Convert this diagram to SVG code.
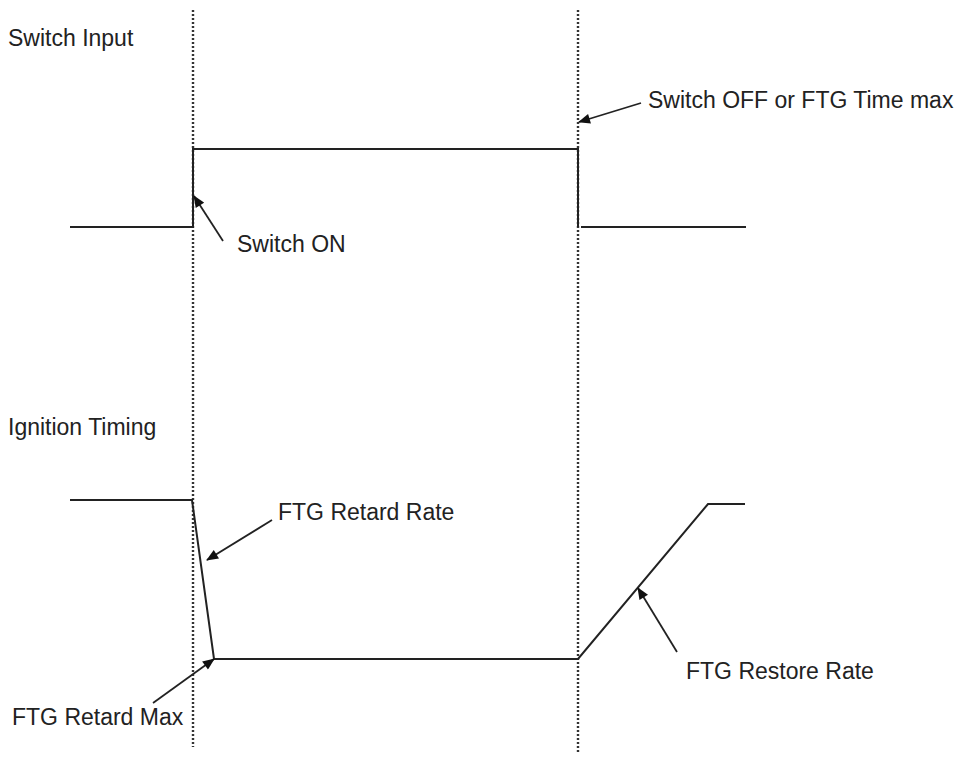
<svg xmlns="http://www.w3.org/2000/svg" width="958" height="760" viewBox="0 0 958 760">
<style>
.guide{stroke:#333;stroke-width:2.4;stroke-dasharray:2 2;fill:none}
.sig{stroke:#222;stroke-width:2;fill:none}
.ptr{stroke:#222;stroke-width:1.8;fill:none;marker-end:url(#ah)}
text{font-family:"Liberation Sans",Arial,sans-serif;font-size:23px;fill:#222}
</style>
<defs>
<marker id="ah" viewBox="0 0 12 10" refX="11" refY="5" markerWidth="13" markerHeight="10" markerUnits="userSpaceOnUse" orient="auto">
<path d="M0,0 L12,5 L0,10 z" fill="#111"/>
</marker>
</defs>
<rect width="958" height="760" fill="#fff"/>
<g id="guides">
<line class="guide" x1="193" y1="10" x2="193" y2="747"/>
<line class="guide" x1="578" y1="10" x2="578" y2="752"/>
</g>
<g id="switch-input">
<text x="8" y="46">Switch Input</text>
<polyline class="sig" points="70,227 193,227 193,149 578,149 578,227"/>
<line class="sig" x1="581" y1="227" x2="746" y2="227"/>
</g>
<g id="ignition-timing">
<text x="8" y="435">Ignition Timing</text>
<polyline class="sig" points="70,500 192,500 214,659 578,659 708,504 745,504"/>
</g>
<g id="connectors">
<line class="ptr" x1="223" y1="241" x2="194" y2="196"/>
<line class="ptr" x1="641" y1="103" x2="579" y2="122"/>
<line class="ptr" x1="272" y1="520" x2="207" y2="560"/>
<line class="ptr" x1="153" y1="703" x2="214" y2="659"/>
<line class="ptr" x1="677" y1="652" x2="638" y2="588"/>
</g>
<g id="labels">
<text x="237" y="252">Switch ON</text>
<text x="648" y="108">Switch OFF or FTG Time max</text>
<text x="278" y="520">FTG Retard Rate</text>
<text x="12" y="725">FTG Retard Max</text>
<text x="686" y="679">FTG Restore Rate</text>
</g>
</svg>
